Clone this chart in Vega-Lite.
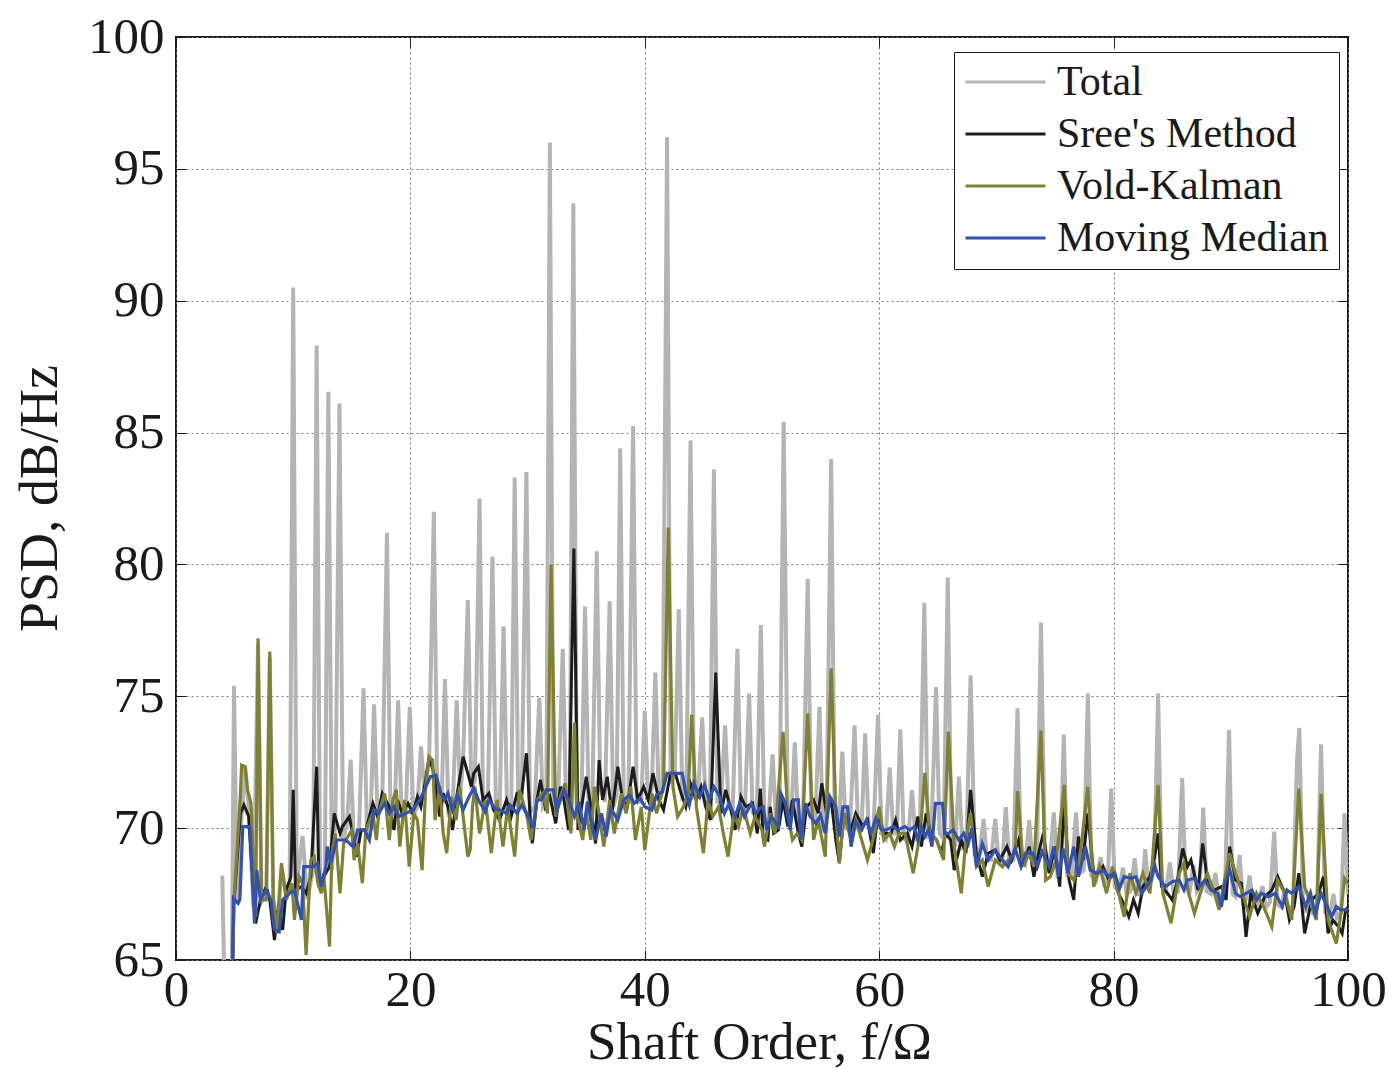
{
"$schema":"https://vega.github.io/schema/vega-lite/v6.json",
"width":1172,"height":923,
"autosize":{"type":"none"},
"padding":{"left":176,"top":37,"right":41,"bottom":108},
"background":"white",
"config":{"view":{"stroke":"#1a1a1a","strokeWidth":2},"font":"Liberation Serif"},
"datasets":{
"tot":[[3.95,68.2],[4.15,63.5],[4.75,64],[4.95,75.4],[5.2,67.2],[5.6,70.5],[5.9,72.3],[6.2,70.8],[6.6,67.0],[7.0,77.0],[7.3,67.2],[7.7,67.5],[8.0,76.5],[8.3,67.3],[8.7,66.5],[9.0,68.5],[9.4,67.5],[9.7,67.8],[10.0,90.5],[10.3,67.8],[10.8,69.7],[11.2,67.3],[11.7,68.4],[12.0,88.3],[12.3,67.9],[12.7,68.3],[13.0,86.55],[13.3,68.4],[13.6,70.3],[13.95,86.1],[14.25,69.5],[14.6,70.2],[14.9,72.6],[15.2,69.3],[15.6,69.6],[16.0,75.3],[16.3,69.8],[16.6,70.3],[16.9,74.7],[17.2,70.4],[17.6,71.0],[18.0,81.2],[18.3,70.3],[18.65,70.5],[18.95,74.85],[19.25,70.5],[19.6,70.6],[19.95,74.6],[20.25,70.5],[20.6,70.8],[20.9,73.1],[21.2,71.4],[21.6,72.6],[22.0,82.0],[22.3,71.0],[22.65,70.8],[22.95,75.65],[23.25,70.6],[23.6,70.8],[23.95,74.85],[24.25,71.2],[24.5,72.6],[24.9,78.65],[25.2,71.5],[25.5,71.8],[25.9,82.5],[26.2,70.8],[26.6,71.0],[27.0,80.3],[27.3,70.6],[27.6,70.4],[27.95,77.65],[28.25,70.6],[28.6,70.6],[28.9,83.3],[29.2,70.8],[29.5,71.2],[29.9,83.5],[30.2,70.6],[30.6,70.8],[31.0,74.95],[31.3,70.8],[31.6,71.0],[31.9,96.0],[32.2,70.5],[32.6,71.0],[33.0,76.8],[33.3,70.6],[33.6,70.5],[33.9,93.7],[34.2,70.6],[34.6,71.0],[34.9,78.4],[35.2,71.0],[35.5,70.5],[35.9,80.5],[36.2,71.5],[36.6,71.0],[37.0,78.6],[37.3,70.8],[37.6,71.2],[37.9,84.4],[38.2,71.0],[38.6,71.0],[39.0,85.25],[39.3,71.0],[39.7,71.0],[40.0,74.45],[40.3,71.0],[40.6,71.5],[40.9,75.9],[41.2,71.0],[41.5,71.4],[41.9,96.2],[42.2,71.8],[42.55,72.0],[42.9,78.3],[43.2,71.2],[43.55,71.4],[43.9,84.7],[44.2,71.2],[44.55,71.3],[44.9,74.2],[45.2,70.8],[45.55,70.5],[45.9,83.6],[46.2,71.0],[46.5,71.0],[46.85,73.9],[47.15,70.8],[47.5,70.6],[47.9,76.8],[48.2,70.8],[48.55,70.8],[48.9,75.1],[49.2,70.6],[49.55,70.4],[49.9,77.7],[50.2,70.3],[50.55,70.3],[50.9,72.8],[51.2,70.2],[51.5,70.4],[51.85,85.4],[52.2,70.6],[52.5,70.5],[52.8,73.25],[53.1,70.0],[53.5,70.3],[53.9,79.45],[54.2,70.5],[54.55,70.3],[54.9,74.6],[55.2,70.0],[55.5,70.2],[55.9,84.0],[56.2,70.2],[56.55,69.8],[56.85,72.9],[57.15,70.0],[57.5,69.9],[57.9,73.9],[58.2,70.0],[58.5,70.0],[58.8,73.6],[59.1,70.0],[59.5,69.8],[59.9,74.3],[60.2,69.8],[60.55,69.6],[60.9,72.3],[61.2,69.8],[61.5,69.8],[61.8,73.75],[62.1,69.6],[62.45,69.5],[62.8,71.45],[63.1,69.6],[63.45,69.5],[63.85,78.55],[64.15,69.7],[64.45,69.8],[64.85,75.35],[65.15,69.8],[65.5,69.6],[65.85,79.5],[66.15,69.5],[66.5,69.4],[66.8,71.95],[67.1,69.3],[67.45,69.5],[67.8,75.8],[68.15,69.0],[68.5,68.8],[68.9,70.35],[69.2,68.8],[69.55,68.8],[69.9,70.35],[70.2,68.7],[70.5,68.6],[70.8,70.8],[71.1,68.7],[71.45,68.8],[71.8,74.54],[72.1,68.7],[72.45,68.6],[72.8,70.3],[73.1,68.5],[73.45,68.6],[73.8,77.8],[74.15,68.5],[74.5,68.4],[74.9,70.6],[75.2,68.3],[75.45,68.5],[75.75,73.55],[76.05,68.2],[76.4,68.2],[76.8,70.6],[77.1,68.3],[77.45,68.4],[77.8,75.1],[78.1,68.2],[78.5,68.0],[78.9,68.9],[79.2,67.9],[79.5,68.0],[79.8,71.5],[80.1,67.8],[80.45,67.6],[80.8,68.5],[81.1,67.5],[81.45,67.6],[81.8,68.86],[82.1,67.5],[82.4,67.5],[82.7,69.2],[83.0,67.6],[83.45,68.4],[83.8,75.1],[84.1,67.8],[84.45,67.6],[84.8,68.7],[85.1,67.6],[85.5,67.6],[85.85,71.9],[86.15,67.7],[86.5,67.6],[86.8,68.6],[87.1,67.6],[87.35,67.8],[87.65,70.78],[87.95,67.6],[88.3,67.5],[88.7,68.3],[89.0,67.2],[89.5,67.5],[89.85,73.72],[90.15,67.5],[90.4,67.4],[90.75,68.98],[91.05,67.2],[91.3,67.3],[91.6,68.2],[91.9,67.2],[92.3,67.1],[92.7,67.8],[93.0,67.0],[93.35,67.2],[93.7,69.87],[94.0,67.1],[94.3,67.0],[94.6,67.7],[94.9,67.0],[95.3,67.0],[95.65,72.6],[95.85,73.8],[96.15,67.2],[96.4,66.8],[96.7,67.6],[97.0,66.8],[97.35,66.9],[97.7,73.18],[98.05,66.8],[98.4,66.6],[98.75,67.5],[99.05,66.6],[99.4,66.8],[99.7,70.56],[100,67.5]],
"sree":[[4.8,64.0],[4.95,67.2],[5.5,70.56],[5.8,70.88],[6.2,70.44],[6.8,66.39],[7.2,67.28],[7.7,67.78],[8.0,67.28],[8.4,65.76],[8.7,66.9],[9.1,66.14],[9.4,67.65],[9.8,68.16],[10.0,71.45],[10.2,67.65],[10.7,67.78],[11.1,67.53],[11.5,68.16],[12.0,72.33],[12.2,67.78],[12.6,68.16],[13.1,68.54],[13.5,70.56],[14.0,69.8],[14.2,70.06],[14.8,70.44],[15.4,68.92],[15.8,69.93],[16.2,69.93],[16.8,70.94],[17.2,70.44],[17.6,71.32],[18.2,70.81],[18.6,69.93],[18.9,71.07],[19.3,70.56],[19.8,70.94],[20.2,70.56],[20.6,71.19],[20.9,70.81],[21.3,71.83],[21.6,72.71],[22.0,72.08],[22.5,70.44],[22.8,71.32],[23.2,70.81],[23.6,69.93],[24.0,71.32],[24.5,72.71],[24.9,72.08],[25.2,71.57],[25.4,72.08],[25.8,72.33],[26.2,71.07],[26.7,71.32],[27.1,70.69],[27.6,70.31],[28.2,71.07],[28.6,70.44],[29.1,71.32],[29.5,71.32],[29.9,72.84],[30.2,70.56],[30.4,69.42],[30.8,71.07],[31.1,71.83],[31.5,70.81],[31.9,71.19],[32.4,70.18],[32.8,71.57],[33.1,71.07],[33.5,69.93],[33.95,80.6],[34.3,69.93],[34.7,71.07],[35.0,71.95],[35.4,70.81],[35.8,69.42],[36.1,72.58],[36.4,71.07],[36.8,71.95],[37.2,70.56],[37.7,72.33],[38.1,71.07],[38.5,70.81],[39.0,72.33],[39.4,71.07],[39.9,71.57],[40.3,71.07],[40.7,72.08],[41.2,71.07],[41.6,70.69],[42.2,72.08],[42.6,72.08],[43.1,71.32],[43.5,70.81],[43.9,71.7],[44.4,71.07],[44.8,71.57],[45.2,70.81],[45.6,70.31],[46.05,75.9],[46.5,70.56],[46.9,71.45],[47.3,70.81],[47.7,69.93],[48.2,71.19],[48.6,70.81],[49.2,70.94],[49.6,69.8],[49.85,71.5],[50.1,69.68],[50.5,69.55],[50.7,70.81],[51.0,69.8],[51.4,69.93],[51.8,71.07],[52.2,70.06],[52.6,71.07],[53.1,69.8],[53.4,69.3],[53.8,70.81],[54.4,71.07],[54.8,70.56],[55.1,71.7],[55.5,70.56],[55.9,71.07],[56.3,69.55],[56.6,68.67],[57.0,70.56],[57.5,69.8],[58.0,70.56],[58.6,70.06],[59.0,70.31],[59.5,69.05],[59.9,70.56],[60.4,69.8],[61.0,69.8],[61.4,70.31],[61.8,69.55],[62.4,69.8],[62.8,69.3],[63.3,70.44],[63.6,69.3],[64.0,70.56],[64.4,69.8],[64.9,69.55],[65.3,69.05],[65.7,69.8],[66.1,69.55],[66.4,68.41],[67.0,69.55],[67.4,69.05],[67.8,71.45],[68.3,69.05],[68.8,68.16],[69.3,69.05],[69.9,69.17],[70.3,68.79],[70.9,69.3],[71.3,68.79],[71.9,69.55],[72.3,68.54],[72.8,69.3],[73.2,68.16],[73.6,69.05],[74.0,69.8],[74.5,68.29],[75.0,69.3],[75.4,67.78],[75.8,71.0],[76.2,68.03],[76.6,67.28],[77.0,69.68],[77.4,68.79],[77.8,70.56],[78.3,68.29],[78.7,68.29],[79.1,68.54],[79.6,68.03],[80.0,68.29],[80.4,67.53],[80.7,67.28],[81.3,66.64],[81.7,67.28],[82.1,66.77],[82.5,67.78],[83.1,68.16],[83.5,68.92],[83.8,69.8],[84.1,67.78],[84.6,67.53],[85.0,67.28],[85.4,67.91],[85.9,69.23],[86.3,68.54],[86.6,68.79],[87.2,67.65],[87.6,69.42],[88.0,68.03],[88.6,67.65],[89.2,67.78],[89.6,67.28],[89.9,69.3],[90.4,68.03],[90.9,67.91],[91.3,65.88],[91.7,67.53],[92.3,66.77],[92.9,67.4],[93.5,67.65],[94.0,68.16],[94.6,67.53],[95.0,66.52],[95.4,67.02],[95.8,68.29],[96.3,66.01],[96.9,67.28],[97.5,67.53],[97.9,68.16],[98.3,66.01],[98.7,66.52],[99.2,66.26],[99.5,66.01],[99.8,66.9],[100,67.0]],
"vk":[[4.8,64.0],[4.95,67.28],[5.5,71.32],[5.6,72.39],[5.9,72.33],[6.1,71.45],[6.4,70.94],[6.6,68.54],[6.8,66.64],[7.0,77.2],[7.3,67.28],[7.7,67.28],[8.0,76.7],[8.3,67.28],[8.6,66.01],[9.0,68.67],[9.4,67.28],[9.9,67.91],[10.1,66.52],[10.5,68.16],[10.8,67.91],[11.1,65.19],[11.5,68.79],[11.8,68.92],[12.1,67.91],[12.4,67.53],[12.6,68.29],[13.1,65.51],[13.3,69.05],[13.6,69.8],[14.0,67.53],[14.3,69.42],[14.5,69.55],[15.0,69.93],[15.2,68.79],[15.5,69.42],[15.9,67.91],[16.2,69.93],[16.8,70.56],[17.1,69.55],[17.3,70.56],[17.8,71.32],[18.2,69.55],[18.5,71.07],[18.8,71.45],[19.1,69.3],[19.5,71.07],[19.9,68.54],[20.3,70.56],[20.6,70.31],[21.0,68.41],[21.3,71.57],[21.6,72.71],[21.9,72.58],[22.1,70.31],[22.5,71.57],[22.8,69.8],[23.1,69.05],[23.5,71.19],[23.9,70.31],[24.2,71.57],[24.5,70.44],[24.9,68.92],[25.1,69.17],[25.3,70.81],[25.5,71.57],[25.9,69.8],[26.4,71.07],[26.9,69.05],[27.4,71.07],[27.9,69.3],[28.3,70.81],[28.9,68.92],[29.3,71.45],[29.9,70.56],[30.3,69.55],[30.8,71.07],[31.3,71.32],[31.7,70.56],[32.0,80.0],[32.4,70.44],[32.8,71.19],[33.2,71.7],[33.7,69.8],[34.0,74.0],[34.2,70.56],[34.7,69.55],[35.0,70.56],[35.4,69.55],[35.7,71.57],[36.1,70.56],[36.5,69.3],[37.0,71.07],[37.4,69.8],[38.0,71.32],[38.4,70.56],[38.8,71.57],[39.2,69.55],[39.7,70.81],[40.0,69.17],[40.6,71.32],[41.0,70.56],[41.6,71.57],[42.0,81.4],[42.4,71.57],[42.8,70.44],[43.3,70.81],[43.7,71.32],[44.0,74.3],[44.4,70.81],[45.0,69.05],[45.4,71.07],[45.8,70.44],[46.3,70.81],[46.7,69.8],[47.1,68.92],[47.6,70.56],[48.0,70.06],[48.4,70.81],[49.0,69.8],[49.4,70.44],[50.0,69.93],[50.2,69.3],[50.7,70.56],[51.1,69.8],[51.8,73.65],[52.2,70.56],[52.6,69.55],[53.0,69.8],[53.4,69.55],[53.9,74.35],[54.4,69.55],[54.8,70.31],[55.4,68.92],[55.9,76.06],[56.3,70.56],[56.6,68.67],[57.0,70.56],[57.6,69.55],[58.0,70.31],[58.5,69.55],[59.0,68.79],[59.6,69.8],[60.0,70.81],[60.4,69.55],[60.9,69.8],[61.3,69.3],[61.7,69.8],[62.2,69.8],[62.9,68.29],[63.5,69.8],[63.9,72.1],[64.3,69.8],[64.9,69.55],[65.5,68.79],[65.9,73.65],[66.4,69.3],[67.0,67.53],[67.4,69.55],[67.8,70.56],[68.3,68.54],[68.8,68.79],[69.3,67.78],[69.9,68.79],[70.5,68.54],[71.0,68.79],[71.6,69.05],[71.8,71.4],[72.3,68.54],[72.8,69.05],[73.2,68.54],[73.8,73.7],[74.2,68.03],[74.6,68.16],[75.1,68.79],[75.8,71.64],[76.1,68.29],[76.6,68.03],[77.1,68.79],[77.8,71.57],[78.3,67.78],[78.8,68.54],[79.4,67.53],[79.9,68.54],[80.3,67.78],[80.9,66.64],[81.4,68.29],[81.9,67.53],[82.5,68.29],[83.1,67.53],[83.8,71.64],[84.2,67.53],[84.9,66.39],[85.6,68.29],[86.0,68.67],[86.4,67.53],[86.9,66.77],[87.4,67.53],[88.0,68.29],[88.6,67.53],[89.0,66.9],[89.9,69.05],[90.4,68.29],[91.0,67.53],[91.6,66.64],[92.2,67.53],[92.8,67.02],[93.5,66.26],[94.0,68.03],[94.6,67.53],[95.2,66.52],[95.8,71.5],[96.3,67.78],[96.7,67.28],[97.3,66.52],[97.7,71.3],[98.3,66.52],[99.0,65.63],[99.4,66.77],[99.7,68.1],[100,67.9]],
"mm":[[4.8,64.0],[4.9,67.34],[5.3,67.15],[5.45,67.3],[5.7,70.06],[6.3,70.06],[6.7,66.39],[6.9,68.41],[7.2,67.28],[7.7,67.65],[8.1,67.28],[8.4,66.14],[8.8,66.07],[9.1,67.28],[9.7,67.53],[10.1,67.65],[10.7,66.52],[10.9,68.54],[11.7,68.54],[12.1,68.67],[12.4,67.78],[12.8,68.54],[12.9,69.3],[13.2,68.67],[13.7,69.55],[14.5,69.55],[15.1,69.3],[15.5,69.93],[16.1,69.93],[16.5,69.55],[16.9,70.69],[17.3,70.56],[17.8,70.94],[18.2,70.56],[18.6,70.81],[19.0,70.44],[19.6,70.56],[20.2,70.69],[20.8,71.07],[21.2,71.45],[21.7,71.95],[22.2,72.0],[22.6,71.32],[22.9,71.07],[23.2,71.32],[23.6,70.69],[24.0,71.26],[24.5,70.69],[25.0,71.19],[25.4,71.51],[25.8,71.07],[26.4,70.63],[26.7,71.07],[27.2,70.75],[27.6,70.69],[28.2,70.56],[28.5,70.88],[29.1,70.56],[29.5,70.88],[29.9,70.56],[30.5,70.06],[30.8,71.07],[31.2,71.07],[31.6,71.45],[32.2,71.45],[32.5,70.69],[33.1,71.45],[33.5,71.07],[34.0,70.44],[34.4,71.0],[34.8,69.93],[35.1,71.0],[35.5,70.06],[35.8,69.55],[36.3,70.56],[36.7,69.68],[37.1,70.75],[37.7,70.31],[38.2,71.07],[38.7,71.26],[39.1,70.94],[39.6,71.13],[40.0,70.81],[40.6,70.69],[41.0,71.26],[41.5,71.38],[41.9,72.08],[43.2,72.08],[43.5,71.32],[43.8,70.88],[44.2,71.7],[44.7,71.19],[45.1,71.64],[45.5,71.07],[45.9,71.57],[46.4,71.19],[46.8,70.56],[47.2,70.94],[47.7,70.44],[48.1,70.94],[48.5,70.44],[49.1,70.94],[49.5,70.56],[49.8,70.75],[50.1,70.81],[50.4,69.93],[50.8,70.44],[51.4,70.06],[51.6,71.32],[52.0,70.94],[52.4,69.93],[52.7,71.07],[53.1,71.07],[53.3,69.55],[53.7,70.94],[54.1,70.44],[54.6,70.18],[55.0,70.5],[55.4,69.8],[55.8,71.19],[56.3,70.81],[56.6,69.68],[56.9,70.81],[57.3,70.81],[57.6,69.3],[58.0,70.25],[58.5,69.93],[58.9,70.31],[59.3,69.8],[59.7,70.37],[60.2,69.93],[60.6,69.93],[61.2,70.06],[61.6,69.93],[62.2,70.06],[62.6,69.93],[63.0,70.06],[63.3,69.55],[63.6,70.06],[63.9,69.68],[64.2,69.93],[64.5,69.3],[64.8,70.94],[65.4,70.94],[65.6,69.8],[65.9,69.8],[66.3,69.93],[66.8,69.55],[67.2,69.8],[67.6,69.42],[67.9,69.99],[68.3,68.54],[68.8,69.42],[69.3,68.79],[69.9,69.17],[70.5,68.79],[71.0,68.54],[71.6,69.23],[72.1,68.54],[72.5,69.05],[73.1,69.05],[73.5,68.54],[73.9,69.11],[74.5,68.54],[74.9,69.3],[75.3,68.16],[75.7,69.23],[76.1,68.29],[76.6,69.3],[77.0,68.16],[77.6,69.3],[78.0,68.41],[78.6,68.29],[79.1,68.41],[79.6,68.16],[80.1,68.29],[80.5,67.72],[80.9,68.16],[81.5,68.1],[81.9,68.16],[82.4,67.53],[82.8,67.78],[83.2,68.03],[83.5,68.6],[83.8,68.16],[84.4,67.78],[85.0,67.97],[85.6,68.03],[86.0,67.65],[86.3,68.03],[86.9,68.1],[87.3,67.78],[87.8,68.03],[88.3,67.65],[88.9,67.53],[89.2,67.02],[89.5,67.91],[89.9,68.41],[90.4,67.53],[90.8,67.4],[91.3,67.53],[91.8,67.65],[92.2,67.28],[92.6,67.53],[93.2,67.4],[93.8,67.53],[94.4,67.02],[94.8,67.65],[95.2,67.53],[95.8,67.78],[96.4,67.02],[96.8,67.53],[97.2,66.77],[97.7,67.53],[98.1,67.15],[98.6,66.64],[99.0,67.02],[99.4,66.9],[99.9,66.9],[100,66.9]]
},
"layer":[
{"data":{"name":"tot"},"mark":{"type":"line","strokeWidth":4,"clip":true},
 "encoding":{
  "x":{"field":"0","type":"quantitative","scale":{"domain":[0,100],"nice":false,"zero":false},
   "axis":{"title":"Shaft Order, f/\u03a9","values":[0,20,40,60,80,100],"domain":false,"tickSize":-10,"tickColor":"#1a1a1a","labelPadding":15,"labelFlush":false,"labelFontSize":51,"labelColor":"#1a1a1a","labelFont":"Liberation Serif","grid":true,"gridDash":[2,3],"gridColor":"#777","gridWidth":1,"titleFontSize":53,"titleFontWeight":"normal","titleFont":"Liberation Serif","titleColor":"#1a1a1a","titleX":583,"titleY":98,"titleAlign":"center","titleBaseline":"alphabetic"}},
  "y":{"field":"1","type":"quantitative","scale":{"domain":[65,100],"nice":false,"zero":false},
   "axis":{"title":"PSD, dB/Hz","values":[65,70,75,80,85,90,95,100],"domain":false,"tickSize":-10,"tickColor":"#1a1a1a","labelPadding":22,"labelFlush":false,"labelFontSize":51,"labelColor":"#1a1a1a","labelFont":"Liberation Serif","grid":true,"gridDash":[2,3],"gridColor":"#777","gridWidth":1,"titleFontSize":54,"titleFontWeight":"normal","titleFont":"Liberation Serif","titleColor":"#1a1a1a","titleX":-120,"titleY":461,"titleAngle":-90,"titleAlign":"center","titleBaseline":"alphabetic"}},
  "color":{"datum":"Total","type":"nominal","scale":{"domain":["Total","Sree's Method","Vold-Kalman","Moving Median"],"range":["#b4b4b4","#1c1c1c","#808033","#3352ad"]},
   "legend":{"title":null,"orient":"none","legendX":778,"legendY":15,"symbolType":"stroke","symbolSize":6400,"symbolStrokeWidth":3,"clipHeight":40,"labelFontSize":42,"labelFont":"Liberation Serif","labelColor":"#1a1a1a","rowPadding":10,"padding":10,"strokeColor":"#1a1a1a","fillColor":"white","labelLimit":0,"labelOffset":10}}
 }},
{"data":{"name":"sree"},"mark":{"type":"line","strokeWidth":3,"clip":true},
 "encoding":{
  "x":{"field":"0","type":"quantitative","axis":{"orient":"top","title":null,"labels":false,"grid":false,"domain":false,"values":[0,20,40,60,80,100],"tickSize":-10,"tickColor":"#1a1a1a"}},
  "y":{"field":"1","type":"quantitative","axis":{"orient":"right","title":null,"labels":false,"grid":false,"domain":false,"values":[65,70,75,80,85,90,95,100],"tickSize":-10,"tickColor":"#1a1a1a"}},
  "color":{"datum":"Sree's Method","type":"nominal"}
 }},
{"data":{"name":"vk"},"mark":{"type":"line","strokeWidth":3.2,"clip":true},
 "encoding":{
  "x":{"field":"0","type":"quantitative","axis":null},
  "y":{"field":"1","type":"quantitative","axis":null},
  "color":{"datum":"Vold-Kalman","type":"nominal"}
 }},
{"data":{"name":"mm"},"mark":{"type":"line","strokeWidth":3.2,"clip":true},
 "encoding":{
  "x":{"field":"0","type":"quantitative","axis":null},
  "y":{"field":"1","type":"quantitative","axis":null},
  "color":{"datum":"Moving Median","type":"nominal"}
 }}
],
"resolve":{"axis":{"x":"independent","y":"independent"}}
}
